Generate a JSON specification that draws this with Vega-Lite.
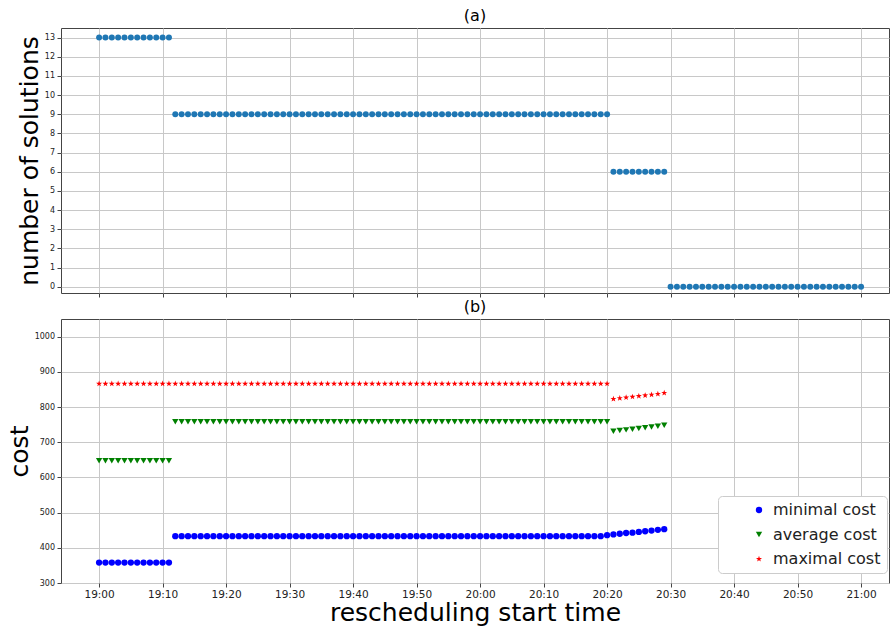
{
  "$schema": "https://vega.github.io/schema/vega-lite/v6.json",
  "background": "white",
  "padding": {"left": 6, "top": 7, "right": 0, "bottom": 0},
  "spacing": 0,
  "config": {
    "font": "DejaVu Sans",
    "view": {"stroke": "#444444", "strokeWidth": 1},
    "title": {"fontSize": 16, "fontWeight": "normal", "color": "#000000", "offset": 4},
    "axis": {
      "gridColor": "#c8c8c8", "gridWidth": 1, "domain": false,
      "tickColor": "#444444", "tickSize": 4, "labelColor": "#222222", "titleColor": "#000000",
      "titleFontWeight": "normal"
    },
    "axisY": {"labelFontSize": 8, "labelPadding": 2.5, "titleFontSize": 25, "titlePadding": 2},
    "axisX": {"labelFontSize": 10.5, "labelPadding": 2, "titleFontSize": 25, "titlePadding": 1}
  },
  "vconcat": [
    {
      "width": 828,
      "height": 265,
      "title": "(a)",
      "data": {
        "values": [
          {"t":"19:00","n":13},{"t":"19:01","n":13},{"t":"19:02","n":13},{"t":"19:03","n":13},{"t":"19:04","n":13},{"t":"19:05","n":13},
          {"t":"19:06","n":13},{"t":"19:07","n":13},{"t":"19:08","n":13},{"t":"19:09","n":13},{"t":"19:10","n":13},{"t":"19:11","n":13},
          {"t":"19:12","n":9},{"t":"19:13","n":9},{"t":"19:14","n":9},{"t":"19:15","n":9},{"t":"19:16","n":9},{"t":"19:17","n":9},
          {"t":"19:18","n":9},{"t":"19:19","n":9},{"t":"19:20","n":9},{"t":"19:21","n":9},{"t":"19:22","n":9},{"t":"19:23","n":9},
          {"t":"19:24","n":9},{"t":"19:25","n":9},{"t":"19:26","n":9},{"t":"19:27","n":9},{"t":"19:28","n":9},{"t":"19:29","n":9},
          {"t":"19:30","n":9},{"t":"19:31","n":9},{"t":"19:32","n":9},{"t":"19:33","n":9},{"t":"19:34","n":9},{"t":"19:35","n":9},
          {"t":"19:36","n":9},{"t":"19:37","n":9},{"t":"19:38","n":9},{"t":"19:39","n":9},{"t":"19:40","n":9},{"t":"19:41","n":9},
          {"t":"19:42","n":9},{"t":"19:43","n":9},{"t":"19:44","n":9},{"t":"19:45","n":9},{"t":"19:46","n":9},{"t":"19:47","n":9},
          {"t":"19:48","n":9},{"t":"19:49","n":9},{"t":"19:50","n":9},{"t":"19:51","n":9},{"t":"19:52","n":9},{"t":"19:53","n":9},
          {"t":"19:54","n":9},{"t":"19:55","n":9},{"t":"19:56","n":9},{"t":"19:57","n":9},{"t":"19:58","n":9},{"t":"19:59","n":9},
          {"t":"20:00","n":9},{"t":"20:01","n":9},{"t":"20:02","n":9},{"t":"20:03","n":9},{"t":"20:04","n":9},{"t":"20:05","n":9},
          {"t":"20:06","n":9},{"t":"20:07","n":9},{"t":"20:08","n":9},{"t":"20:09","n":9},{"t":"20:10","n":9},{"t":"20:11","n":9},
          {"t":"20:12","n":9},{"t":"20:13","n":9},{"t":"20:14","n":9},{"t":"20:15","n":9},{"t":"20:16","n":9},{"t":"20:17","n":9},
          {"t":"20:18","n":9},{"t":"20:19","n":9},{"t":"20:20","n":9},
          {"t":"20:21","n":6},{"t":"20:22","n":6},{"t":"20:23","n":6},{"t":"20:24","n":6},{"t":"20:25","n":6},{"t":"20:26","n":6},
          {"t":"20:27","n":6},{"t":"20:28","n":6},{"t":"20:29","n":6},
          {"t":"20:30","n":0},{"t":"20:31","n":0},{"t":"20:32","n":0},{"t":"20:33","n":0},{"t":"20:34","n":0},{"t":"20:35","n":0},
          {"t":"20:36","n":0},{"t":"20:37","n":0},{"t":"20:38","n":0},{"t":"20:39","n":0},{"t":"20:40","n":0},{"t":"20:41","n":0},
          {"t":"20:42","n":0},{"t":"20:43","n":0},{"t":"20:44","n":0},{"t":"20:45","n":0},{"t":"20:46","n":0},{"t":"20:47","n":0},
          {"t":"20:48","n":0},{"t":"20:49","n":0},{"t":"20:50","n":0},{"t":"20:51","n":0},{"t":"20:52","n":0},{"t":"20:53","n":0},
          {"t":"20:54","n":0},{"t":"20:55","n":0},{"t":"20:56","n":0},{"t":"20:57","n":0},{"t":"20:58","n":0},{"t":"20:59","n":0},
          {"t":"21:00","n":0}
        ],
        "format": {"parse": {"t": "date:'%H:%M'"}}
      },
      "mark": {"type": "point", "filled": true, "size": 36, "color": "#1f77b4", "opacity": 1},
      "encoding": {
        "x": {
          "field": "t", "type": "temporal",
          "scale": {"domain": [
            {"year": 1900, "month": 1, "date": 1, "hours": 18, "minutes": 54},
            {"year": 1900, "month": 1, "date": 1, "hours": 21, "minutes": 4, "seconds": 24}
          ]},
          "axis": {"title": null, "labels": false, "values": [
            {"year": 1900, "month": 1, "date": 1, "hours": 19, "minutes": 0},
            {"year": 1900, "month": 1, "date": 1, "hours": 19, "minutes": 10},
            {"year": 1900, "month": 1, "date": 1, "hours": 19, "minutes": 20},
            {"year": 1900, "month": 1, "date": 1, "hours": 19, "minutes": 30},
            {"year": 1900, "month": 1, "date": 1, "hours": 19, "minutes": 40},
            {"year": 1900, "month": 1, "date": 1, "hours": 19, "minutes": 50},
            {"year": 1900, "month": 1, "date": 1, "hours": 20, "minutes": 0},
            {"year": 1900, "month": 1, "date": 1, "hours": 20, "minutes": 10},
            {"year": 1900, "month": 1, "date": 1, "hours": 20, "minutes": 20},
            {"year": 1900, "month": 1, "date": 1, "hours": 20, "minutes": 30},
            {"year": 1900, "month": 1, "date": 1, "hours": 20, "minutes": 40},
            {"year": 1900, "month": 1, "date": 1, "hours": 20, "minutes": 50},
            {"year": 1900, "month": 1, "date": 1, "hours": 21, "minutes": 0}
          ]}
        },
        "y": {
          "field": "n", "type": "quantitative",
          "scale": {"domain": [-0.33, 13.5], "nice": false, "zero": false},
          "axis": {"title": "number of solutions", "format": "d", "values": [0,1,2,3,4,5,6,7,8,9,10,11,12,13]}
        }
      }
    },
    {
      "width": 828,
      "height": 264,
      "title": "(b)",
      "data": {
        "values": [
          {"t":"19:00","minimal cost":358,"average cost":647,"maximal cost":866},
          {"t":"19:01","minimal cost":358,"average cost":647,"maximal cost":866},
          {"t":"19:02","minimal cost":358,"average cost":647,"maximal cost":866},
          {"t":"19:03","minimal cost":358,"average cost":647,"maximal cost":866},
          {"t":"19:04","minimal cost":358,"average cost":647,"maximal cost":866},
          {"t":"19:05","minimal cost":358,"average cost":647,"maximal cost":866},
          {"t":"19:06","minimal cost":358,"average cost":647,"maximal cost":866},
          {"t":"19:07","minimal cost":358,"average cost":647,"maximal cost":866},
          {"t":"19:08","minimal cost":358,"average cost":647,"maximal cost":866},
          {"t":"19:09","minimal cost":358,"average cost":647,"maximal cost":866},
          {"t":"19:10","minimal cost":358,"average cost":647,"maximal cost":866},
          {"t":"19:11","minimal cost":358,"average cost":647,"maximal cost":866},
          {"t":"19:12","minimal cost":433,"average cost":758,"maximal cost":866},
          {"t":"19:13","minimal cost":433,"average cost":758,"maximal cost":866},
          {"t":"19:14","minimal cost":433,"average cost":758,"maximal cost":866},
          {"t":"19:15","minimal cost":433,"average cost":758,"maximal cost":866},
          {"t":"19:16","minimal cost":433,"average cost":758,"maximal cost":866},
          {"t":"19:17","minimal cost":433,"average cost":758,"maximal cost":866},
          {"t":"19:18","minimal cost":433,"average cost":758,"maximal cost":866},
          {"t":"19:19","minimal cost":433,"average cost":758,"maximal cost":866},
          {"t":"19:20","minimal cost":433,"average cost":758,"maximal cost":866},
          {"t":"19:21","minimal cost":433,"average cost":758,"maximal cost":866},
          {"t":"19:22","minimal cost":433,"average cost":758,"maximal cost":866},
          {"t":"19:23","minimal cost":433,"average cost":758,"maximal cost":866},
          {"t":"19:24","minimal cost":433,"average cost":758,"maximal cost":866},
          {"t":"19:25","minimal cost":433,"average cost":758,"maximal cost":866},
          {"t":"19:26","minimal cost":433,"average cost":758,"maximal cost":866},
          {"t":"19:27","minimal cost":433,"average cost":758,"maximal cost":866},
          {"t":"19:28","minimal cost":433,"average cost":758,"maximal cost":866},
          {"t":"19:29","minimal cost":433,"average cost":758,"maximal cost":866},
          {"t":"19:30","minimal cost":433,"average cost":758,"maximal cost":866},
          {"t":"19:31","minimal cost":433,"average cost":758,"maximal cost":866},
          {"t":"19:32","minimal cost":433,"average cost":758,"maximal cost":866},
          {"t":"19:33","minimal cost":433,"average cost":758,"maximal cost":866},
          {"t":"19:34","minimal cost":433,"average cost":758,"maximal cost":866},
          {"t":"19:35","minimal cost":433,"average cost":758,"maximal cost":866},
          {"t":"19:36","minimal cost":433,"average cost":758,"maximal cost":866},
          {"t":"19:37","minimal cost":433,"average cost":758,"maximal cost":866},
          {"t":"19:38","minimal cost":433,"average cost":758,"maximal cost":866},
          {"t":"19:39","minimal cost":433,"average cost":758,"maximal cost":866},
          {"t":"19:40","minimal cost":433,"average cost":758,"maximal cost":866},
          {"t":"19:41","minimal cost":433,"average cost":758,"maximal cost":866},
          {"t":"19:42","minimal cost":433,"average cost":758,"maximal cost":866},
          {"t":"19:43","minimal cost":433,"average cost":758,"maximal cost":866},
          {"t":"19:44","minimal cost":433,"average cost":758,"maximal cost":866},
          {"t":"19:45","minimal cost":433,"average cost":758,"maximal cost":866},
          {"t":"19:46","minimal cost":433,"average cost":758,"maximal cost":866},
          {"t":"19:47","minimal cost":433,"average cost":758,"maximal cost":866},
          {"t":"19:48","minimal cost":433,"average cost":758,"maximal cost":866},
          {"t":"19:49","minimal cost":433,"average cost":758,"maximal cost":866},
          {"t":"19:50","minimal cost":433,"average cost":758,"maximal cost":866},
          {"t":"19:51","minimal cost":433,"average cost":758,"maximal cost":866},
          {"t":"19:52","minimal cost":433,"average cost":758,"maximal cost":866},
          {"t":"19:53","minimal cost":433,"average cost":758,"maximal cost":866},
          {"t":"19:54","minimal cost":433,"average cost":758,"maximal cost":866},
          {"t":"19:55","minimal cost":433,"average cost":758,"maximal cost":866},
          {"t":"19:56","minimal cost":433,"average cost":758,"maximal cost":866},
          {"t":"19:57","minimal cost":433,"average cost":758,"maximal cost":866},
          {"t":"19:58","minimal cost":433,"average cost":758,"maximal cost":866},
          {"t":"19:59","minimal cost":433,"average cost":758,"maximal cost":866},
          {"t":"20:00","minimal cost":433,"average cost":758,"maximal cost":866},
          {"t":"20:01","minimal cost":433,"average cost":758,"maximal cost":866},
          {"t":"20:02","minimal cost":433,"average cost":758,"maximal cost":866},
          {"t":"20:03","minimal cost":433,"average cost":758,"maximal cost":866},
          {"t":"20:04","minimal cost":433,"average cost":758,"maximal cost":866},
          {"t":"20:05","minimal cost":433,"average cost":758,"maximal cost":866},
          {"t":"20:06","minimal cost":433,"average cost":758,"maximal cost":866},
          {"t":"20:07","minimal cost":433,"average cost":758,"maximal cost":866},
          {"t":"20:08","minimal cost":433,"average cost":758,"maximal cost":866},
          {"t":"20:09","minimal cost":433,"average cost":758,"maximal cost":866},
          {"t":"20:10","minimal cost":433,"average cost":758,"maximal cost":866},
          {"t":"20:11","minimal cost":433,"average cost":758,"maximal cost":866},
          {"t":"20:12","minimal cost":433,"average cost":758,"maximal cost":866},
          {"t":"20:13","minimal cost":433,"average cost":758,"maximal cost":866},
          {"t":"20:14","minimal cost":433,"average cost":758,"maximal cost":866},
          {"t":"20:15","minimal cost":433,"average cost":758,"maximal cost":866},
          {"t":"20:16","minimal cost":433,"average cost":758,"maximal cost":866},
          {"t":"20:17","minimal cost":433,"average cost":758,"maximal cost":866},
          {"t":"20:18","minimal cost":433,"average cost":758,"maximal cost":866},
          {"t":"20:19","minimal cost":433,"average cost":758,"maximal cost":866},
          {"t":"20:20","minimal cost":436,"average cost":758,"maximal cost":866},
          {"t":"20:21","minimal cost":438,"average cost":731,"maximal cost":823},
          {"t":"20:22","minimal cost":440,"average cost":733,"maximal cost":825},
          {"t":"20:23","minimal cost":442,"average cost":735,"maximal cost":827},
          {"t":"20:24","minimal cost":443,"average cost":737,"maximal cost":829},
          {"t":"20:25","minimal cost":445,"average cost":739,"maximal cost":831},
          {"t":"20:26","minimal cost":447,"average cost":741,"maximal cost":833},
          {"t":"20:27","minimal cost":449,"average cost":743,"maximal cost":835},
          {"t":"20:28","minimal cost":451,"average cost":745,"maximal cost":837},
          {"t":"20:29","minimal cost":453,"average cost":748,"maximal cost":840}
        ],
        "format": {"parse": {"t": "date:'%H:%M'"}}
      },
      "transform": [
        {"fold": ["minimal cost", "average cost", "maximal cost"], "as": ["series", "cost"]}
      ],
      "mark": {"type": "point", "filled": true, "size": 40, "opacity": 1},
      "encoding": {
        "x": {
          "field": "t", "type": "temporal",
          "scale": {"domain": [
            {"year": 1900, "month": 1, "date": 1, "hours": 18, "minutes": 54},
            {"year": 1900, "month": 1, "date": 1, "hours": 21, "minutes": 4, "seconds": 24}
          ]},
          "axis": {"title": "rescheduling start time", "format": "%H:%M", "labelFlush": false, "values": [
            {"year": 1900, "month": 1, "date": 1, "hours": 19, "minutes": 0},
            {"year": 1900, "month": 1, "date": 1, "hours": 19, "minutes": 10},
            {"year": 1900, "month": 1, "date": 1, "hours": 19, "minutes": 20},
            {"year": 1900, "month": 1, "date": 1, "hours": 19, "minutes": 30},
            {"year": 1900, "month": 1, "date": 1, "hours": 19, "minutes": 40},
            {"year": 1900, "month": 1, "date": 1, "hours": 19, "minutes": 50},
            {"year": 1900, "month": 1, "date": 1, "hours": 20, "minutes": 0},
            {"year": 1900, "month": 1, "date": 1, "hours": 20, "minutes": 10},
            {"year": 1900, "month": 1, "date": 1, "hours": 20, "minutes": 20},
            {"year": 1900, "month": 1, "date": 1, "hours": 20, "minutes": 30},
            {"year": 1900, "month": 1, "date": 1, "hours": 20, "minutes": 40},
            {"year": 1900, "month": 1, "date": 1, "hours": 20, "minutes": 50},
            {"year": 1900, "month": 1, "date": 1, "hours": 21, "minutes": 0}
          ]}
        },
        "y": {
          "field": "cost", "type": "quantitative",
          "scale": {"domain": [300, 1050], "nice": false, "zero": false},
          "axis": {"title": "cost", "format": "d", "values": [300,400,500,600,700,800,900,1000]}
        },
        "color": {
          "field": "series", "type": "nominal",
          "scale": {"domain": ["minimal cost", "average cost", "maximal cost"], "range": ["#0000ff", "#008000", "#ff0000"]},
          "legend": {
            "title": null, "orient": "none", "legendX": 657, "legendY": 468,
            "labelFontSize": 16, "labelColor": "#222222",
            "symbolSize": 40, "padding": 6, "symbolOffset": 27, "labelOffset": 6, "rowPadding": 8.5,
            "strokeColor": "#cccccc", "fillColor": "#ffffff", "cornerRadius": 4
          }
        },
        "shape": {
          "field": "series", "type": "nominal",
          "scale": {"domain": ["minimal cost", "average cost", "maximal cost"], "range": ["circle", "triangle-down", "M0,-1L0.235,-0.324L0.951,-0.309L0.38,0.124L0.588,0.809L0,0.4L-0.588,0.809L-0.38,0.124L-0.951,-0.309L-0.235,-0.324Z"]}
        }
      }
    }
  ]
}
